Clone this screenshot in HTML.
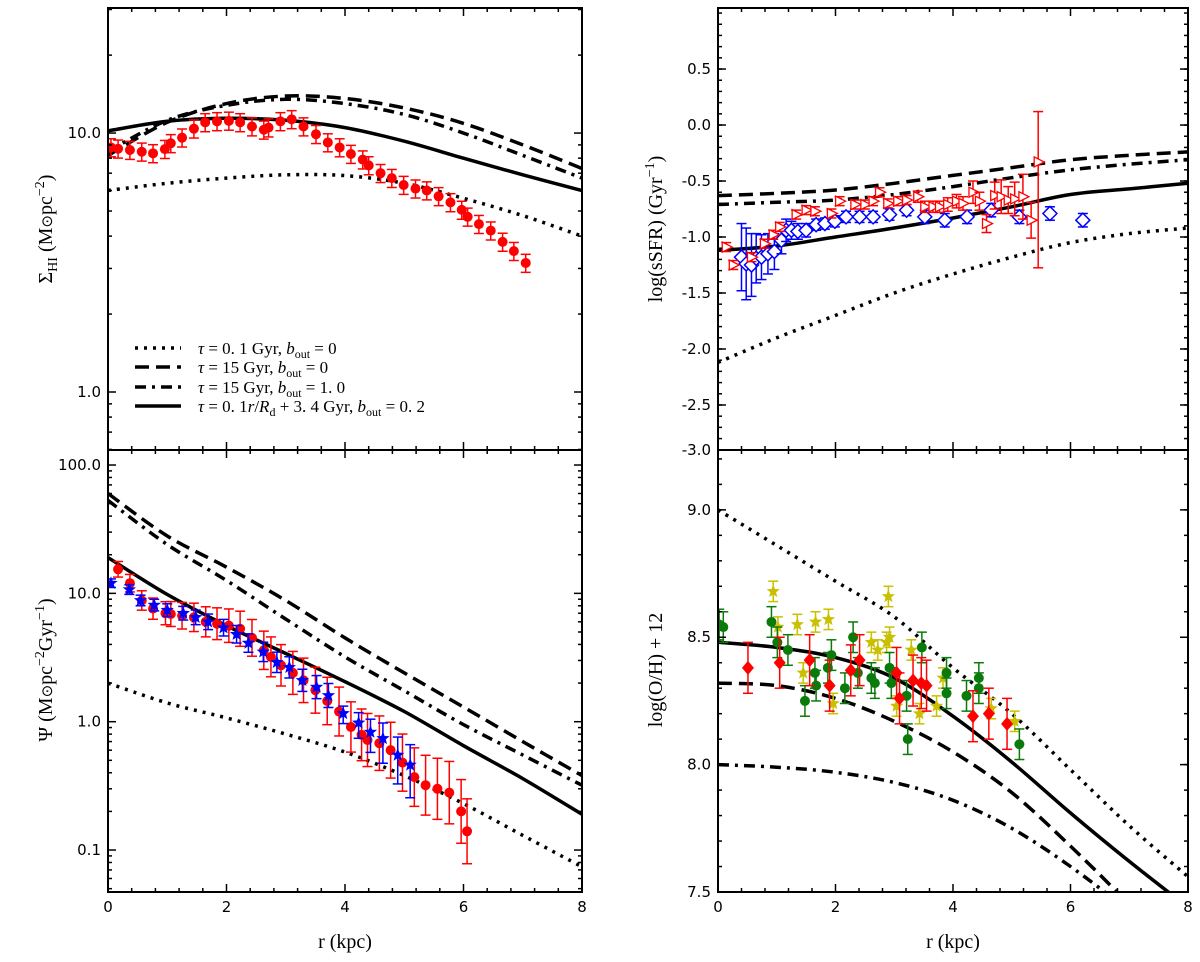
<!DOCTYPE html>
<html><head><meta charset="utf-8"><style>
html,body{margin:0;padding:0;background:#fff;}
svg{display:block;}
.tl{font-family:"DejaVu Sans","Liberation Sans",sans-serif;font-size:15px;fill:#000;}
.al{font-family:"Liberation Serif","DejaVu Serif",serif;font-size:20px;fill:#000;}
.lg{font-family:"Liberation Serif","DejaVu Serif",serif;font-size:17px;fill:#000;}
</style></head><body>
<svg id="fig" width="1200" height="962" viewBox="0 0 1200 962" xmlns="http://www.w3.org/2000/svg">
<text class="al" x="345" y="948" text-anchor="middle">r (kpc)</text>
<text class="al" x="953" y="948" text-anchor="middle">r (kpc)</text>
<text class="al" transform="translate(52,229) rotate(-90)" text-anchor="middle">Σ<tspan font-size="14" dy="5">HI</tspan><tspan dy="-5"> (M</tspan><tspan font-family="DejaVu Sans" font-size="15">⊙</tspan>pc<tspan font-size="14" dy="-8">−2</tspan><tspan dy="8">)</tspan></text>
<text class="al" transform="translate(52,670) rotate(-90)" text-anchor="middle">Ψ (M<tspan font-family="DejaVu Sans" font-size="15">⊙</tspan>pc<tspan font-size="14" dy="-8">−2</tspan><tspan dy="8">Gyr</tspan><tspan font-size="14" dy="-8">−1</tspan><tspan dy="8">)</tspan></text>
<text class="al" transform="translate(662,229) rotate(-90)" text-anchor="middle">log(sSFR) (Gyr<tspan font-size="14" dy="-8">−1</tspan><tspan dy="8">)</tspan></text>
<text class="al" transform="translate(662,670) rotate(-90)" text-anchor="middle">log(O/H) + 12</text>
</svg>
<script>
// ---------- data ----------
const R = [0,1,2,3,4,5,6,7,8];
// panel A: Sigma_HI
const hiSolid = [10.2,11.1,11.4,11.2,10.5,9.3,8.0,6.9,6.0];
const hiDashed = [8.2,11.0,13.0,13.9,13.6,12.5,10.9,9.0,7.3];
const hiDashDot = [8.5,11.2,12.8,13.5,13.0,11.8,10.0,8.2,6.7];
const hiDotted = [6.0,6.4,6.7,6.9,6.85,6.4,5.6,4.8,4.0];
const hiObsR = [0.05,0.17,0.37,0.57,0.76,0.96,1.06,1.25,1.45,1.64,1.84,2.04,2.23,2.43,2.63,2.71,2.91,3.1,3.3,3.51,3.71,3.91,4.1,4.3,4.4,4.6,4.79,4.99,5.19,5.38,5.58,5.78,5.97,6.07,6.26,6.46,6.66,6.85,7.05];
const hiObsV = [8.8,8.7,8.6,8.47,8.35,8.67,9.13,9.6,10.4,11.0,11.1,11.15,11.0,10.6,10.3,10.5,11.1,11.3,10.6,9.9,9.2,8.8,8.3,7.9,7.5,7.0,6.7,6.3,6.1,6.0,5.7,5.4,5.05,4.75,4.45,4.2,3.8,3.5,3.15];
// panel B: Psi
const psiSolid = [19,9.8,5.6,3.4,2.05,1.2,0.65,0.36,0.19];
const psiDashed = [60,28,16,8.8,4.5,2.4,1.3,0.7,0.38];
const psiDashDot = [53,24,12.6,6.3,3.2,1.74,0.95,0.55,0.32];
const psiDotted = [2.0,1.4,1.07,0.8,0.58,0.38,0.23,0.13,0.074];
const psiRedR = [0.17,0.37,0.57,0.76,0.97,1.06,1.25,1.45,1.65,1.84,2.04,2.23,2.43,2.63,2.75,2.92,3.12,3.3,3.5,3.7,3.9,4.1,4.28,4.38,4.58,4.77,4.97,5.17,5.36,5.56,5.76,5.96,6.06];
const psiRedV = [15.4,12,8.8,7.6,7.0,6.9,6.7,6.5,6.0,5.8,5.6,5.3,4.5,3.6,3.2,2.75,2.4,2.1,1.76,1.45,1.2,0.91,0.79,0.72,0.68,0.6,0.48,0.37,0.32,0.30,0.28,0.2,0.14];
const psiBlueR = [0.05,0.36,0.55,0.78,1.0,1.27,1.48,1.69,1.95,2.17,2.37,2.62,2.85,3.06,3.28,3.52,3.72,3.97,4.23,4.43,4.64,4.89,5.1];
const psiBlueV = [12,10.7,8.8,8.1,7.4,7.0,6.5,6.0,5.4,4.8,4.1,3.5,2.9,2.65,2.1,1.86,1.6,1.16,0.98,0.83,0.74,0.55,0.46];
// panel C: log sSFR
const ssSolid = [-1.12,-1.08,-1.0,-0.92,-0.83,-0.73,-0.62,-0.57,-0.52];
const ssDashed = [-0.63,-0.61,-0.58,-0.52,-0.45,-0.38,-0.31,-0.27,-0.24];
const ssDashDot = [-0.71,-0.69,-0.67,-0.62,-0.55,-0.47,-0.40,-0.35,-0.31];
const ssDotted = [-2.12,-1.9,-1.70,-1.5,-1.33,-1.18,-1.05,-0.97,-0.92];
const ssRedR = [0.14,0.26,0.57,0.79,0.94,1.05,1.33,1.5,1.65,1.93,2.07,2.33,2.5,2.64,2.75,2.89,3.06,3.21,3.4,3.52,3.66,3.77,3.91,4.06,4.17,4.34,4.45,4.57,4.71,4.82,4.94,5.05,5.19,5.33,5.45];
const ssRedV = [-1.09,-1.25,-1.18,-1.06,-0.98,-0.91,-0.80,-0.76,-0.77,-0.79,-0.68,-0.71,-0.71,-0.68,-0.60,-0.70,-0.68,-0.67,-0.64,-0.73,-0.73,-0.73,-0.71,-0.68,-0.70,-0.60,-0.68,-0.88,-0.63,-0.64,-0.67,-0.66,-0.64,-0.85,-0.33];
const ssRedErr = [0.04,0.04,0.04,0.04,0.04,0.04,0.04,0.04,0.04,0.04,0.04,0.04,0.04,0.04,0.04,0.04,0.04,0.04,0.05,0.05,0.05,0.05,0.06,0.06,0.06,0.1,0.08,0.08,0.12,0.15,0.12,0.15,0.2,0.16,0.45];
const ssBlueR = [0.4,0.48,0.57,0.65,0.74,0.85,0.96,1.08,1.16,1.25,1.36,1.5,1.67,1.82,1.99,2.18,2.41,2.64,2.92,3.21,3.52,3.86,4.24,4.65,5.13,5.65,6.21];
const ssBlueV = [-1.18,-1.24,-1.25,-1.19,-1.18,-1.15,-1.13,-1.03,-0.94,-0.94,-0.95,-0.94,-0.89,-0.88,-0.86,-0.82,-0.82,-0.82,-0.80,-0.76,-0.82,-0.85,-0.82,-0.76,-0.82,-0.79,-0.85];
const ssBlueErr = [0.3,0.32,0.28,0.22,0.2,0.18,0.16,0.12,0.1,0.08,0.07,0.06,0.05,0.05,0.05,0.05,0.05,0.05,0.05,0.05,0.06,0.06,0.06,0.06,0.06,0.06,0.06];
// panel D: log(O/H)+12
const ohSolid = [8.48,8.46,8.42,8.34,8.19,8.01,7.81,7.62,7.44];
const ohDashed = [8.32,8.31,8.26,8.17,8.05,7.89,7.68,7.45,7.2];
const ohDashDot = [8.0,7.99,7.97,7.93,7.86,7.75,7.6,7.42,7.2];
const ohDotted = [9.0,8.86,8.72,8.58,8.38,8.2,7.98,7.76,7.56];
const ohRedR = [0.51,1.05,1.56,1.9,2.26,2.41,3.04,3.09,3.32,3.46,3.55,4.34,4.61,4.92];
const ohRedV = [8.38,8.40,8.41,8.31,8.37,8.41,8.36,8.26,8.33,8.32,8.31,8.19,8.2,8.16];
const ohGreenR = [0.02,0.09,0.91,1.01,1.19,1.48,1.65,1.67,1.87,1.93,2.16,2.3,2.38,2.61,2.67,2.92,2.95,3.21,3.23,3.47,3.89,3.89,4.23,4.44,4.44,5.13];
const ohGreenV = [8.55,8.54,8.56,8.48,8.45,8.25,8.36,8.31,8.38,8.43,8.3,8.5,8.36,8.34,8.32,8.38,8.32,8.27,8.1,8.46,8.36,8.28,8.27,8.34,8.3,8.08];
const ohYellowR = [0.94,1.02,1.35,1.45,1.66,1.88,1.96,2.61,2.72,2.87,2.9,2.92,3.04,3.29,3.43,3.72,3.83,4.65,5.05];
const ohYellowV = [8.68,8.54,8.55,8.36,8.56,8.57,8.24,8.48,8.45,8.48,8.66,8.5,8.23,8.45,8.2,8.23,8.34,8.22,8.17];
// tick labels
const xTickVals = [0,2,4,6,8];
const hiTickVals = [1,10];
const hiTickLabels = ["1.0","10.0"];
const psiTickVals = [0.1,1,10,100];
const psiTickLabels = ["0.1","1.0","10.0","100.0"];
const ssTickVals = [0.5,0.0,-0.5,-1.0,-1.5,-2.0,-2.5];
const ssTickLabels = ["0.5","0.0","-0.5","-1.0","-1.5","-2.0","-2.5"];
const ohTickVals = [7.5,8.0,8.5,9.0];
const ohTickLabels = ["7.5","8.0","8.5","9.0"];

// ---------- drawing ----------
const NS = "http://www.w3.org/2000/svg";
const svg = document.getElementById("fig");
function mk(tag, attrs, parent){
  const e = document.createElementNS(NS, tag);
  for (const k in attrs) e.setAttribute(k, attrs[k]);
  (parent||svg).appendChild(e);
  return e;
}
function panel(cfg){
  const g = mk("g", {});
  
  
  const clipId = cfg.name + "-clip";
  const defs = mk("defs", {}, g);
  const cp = mk("clipPath", {id: clipId}, defs);
  mk("rect", {x: cfg.x0, y: cfg.y0, width: cfg.x1 - cfg.x0, height: cfg.y1 - cfg.y0}, cp);
  const sx = v => cfg.x0 + (v - 0) / 8 * (cfg.x1 - cfg.x0);
  const tf = v => cfg.log ? Math.log10(v) : v;
  const lo = tf(cfg.ymin), hi = tf(cfg.ymax);
  const sy = v => cfg.y1 - (tf(v) - lo) / (hi - lo) * (cfg.y1 - cfg.y0);
  return {g, sx, sy, clipId, cfg};
}
function smoothPath(pts){
  let d = "M" + pts[0][0].toFixed(1) + "," + pts[0][1].toFixed(1);
  for (let i = 0; i < pts.length - 1; i++){
    const p0 = pts[Math.max(0, i-1)], p1 = pts[i], p2 = pts[i+1], p3 = pts[Math.min(pts.length-1, i+2)];
    const c1 = [p1[0] + (p2[0]-p0[0])/6, p1[1] + (p2[1]-p0[1])/6];
    const c2 = [p2[0] - (p3[0]-p1[0])/6, p2[1] - (p3[1]-p1[1])/6];
    d += " C" + c1.map(v=>v.toFixed(1)).join(",") + " " + c2.map(v=>v.toFixed(1)).join(",") + " " + p2[0].toFixed(1) + "," + p2[1].toFixed(1);
  }
  return d;
}
const DASH = {solid: "", dashed: "14,7", dashdot: "11,6,3,6", dotted: "3,6"};
function curve(P, vals, style, name){
  const pts = R.map((r, i) => [P.sx(r), P.sy(vals[i])]);
  const p = mk("path", {d: smoothPath(pts), fill: "none", stroke: "#000", "stroke-width": 3.5, "stroke-dasharray": DASH[style], "clip-path": "url(#" + P.clipId + ")"}, P.g);
  
  
}
function marker(P, shape, x, y, color, parent){
  let e;
  if (shape === "circle") e = mk("circle", {cx: x, cy: y, r: 5, fill: color}, parent);
  else if (shape === "diamond") e = mk("polygon", {points: `${x},${y-7} ${x+7},${y} ${x},${y+7} ${x-7},${y}`, fill: "#fff", stroke: color, "stroke-width": 1.5}, parent);
  else if (shape === "filldiamond") e = mk("polygon", {points: `${x},${y-7} ${x+6},${y} ${x},${y+7} ${x-6},${y}`, fill: color}, parent);
  else if (shape === "tri") e = mk("polygon", {points: `${x+6},${y} ${x-4},${y-5} ${x-4},${y+5}`, fill: "#fff", stroke: color, "stroke-width": 1.3}, parent);
  else if (shape === "star") {
    let pts = [];
    for (let k = 0; k < 10; k++){ const a = -Math.PI/2 + k*Math.PI/5; const rr = k%2 ? 3 : 7; pts.push((x+rr*Math.cos(a)).toFixed(1)+","+(y+rr*Math.sin(a)).toFixed(1)); }
    e = mk("polygon", {points: pts.join(" "), fill: color}, parent);
  }
  return e;
}
function series(P, rs, vs, errLo, errHi, shape, color, name){
  const g = mk("g", {"clip-path": "url(#" + P.clipId + ")"}, P.g);
  
  
  rs.forEach((r, i) => {
    const x = P.sx(r), y = P.sy(vs[i]);
    const yl = P.sy(errLo(vs[i], i)), yh = P.sy(errHi(vs[i], i));
    mk("line", {x1: x, x2: x, y1: yl, y2: yh, stroke: color, "stroke-width": 1.5}, g);
    mk("line", {x1: x-5, x2: x+5, y1: yl, y2: yl, stroke: color, "stroke-width": 1.5}, g);
    mk("line", {x1: x-5, x2: x+5, y1: yh, y2: yh, stroke: color, "stroke-width": 1.5}, g);
    const m = marker(P, shape, x, y, color, g);
    
    
  });
}
function axes(P, yMajor, yLabels, yMinor, showX){
  const c = P.cfg, g = P.g;
  const fr = mk("rect", {x: c.x0, y: c.y0, width: c.x1-c.x0, height: c.y1-c.y0, fill: "none", stroke: "#000", "stroke-width": 2}, g);
  
  
  for (let k = 0; k <= 20; k++){
    const v = k*0.4, x = P.sx(v), major = (k % 5 === 0), L = major ? 8 : 4;
    mk("line", {x1: x, x2: x, y1: c.y1, y2: c.y1-L, stroke: "#000", "stroke-width": 1.5}, g);
    mk("line", {x1: x, x2: x, y1: c.y0, y2: c.y0+L, stroke: "#000", "stroke-width": 1.5}, g);
  }
  if (showX){
    xTickVals.forEach(v => {
      const t = mk("text", {class: "tl", x: P.sx(v), y: c.y1 + 20, "text-anchor": "middle"}, g);
      t.textContent = String(v);
      
      
    });
  }
  yMinor.forEach(v => {
    const y = P.sy(v);
    if (y < c.y0 - 0.5 || y > c.y1 + 0.5) return;
    mk("line", {x1: c.x0, x2: c.x0+4, y1: y, y2: y, stroke: "#000", "stroke-width": 1.5}, g);
    mk("line", {x1: c.x1, x2: c.x1-4, y1: y, y2: y, stroke: "#000", "stroke-width": 1.5}, g);
  });
  yMajor.forEach((v, i) => {
    const y = P.sy(v);
    mk("line", {x1: c.x0, x2: c.x0+8, y1: y, y2: y, stroke: "#000", "stroke-width": 1.5}, g);
    mk("line", {x1: c.x1, x2: c.x1-8, y1: y, y2: y, stroke: "#000", "stroke-width": 1.5}, g);
    const t = mk("text", {class: "tl", x: c.x0 - 7, y: y + 5, "text-anchor": "end"}, g);
    t.textContent = yLabels[i];
    
    
  });
}
function logMinor(a, b){ const out = []; for (let e = a; e <= b; e++) for (let m = 2; m <= 9; m++) out.push(m * Math.pow(10, e)); return out; }
function linMinor(a, b){ const out = []; for (let v = a; v <= b + 1e-9; v += 0.1) out.push(Math.round(v*10)/10); return out; }

// Panel A
const A = panel({name: "panel-hi", x0: 108, x1: 582, y0: 8, y1: 450, log: true, ymin: Math.pow(10, -0.224), ymax: Math.pow(10, 1.483)});
curve(A, hiDotted, "dotted", "hi-curve-dotted");
curve(A, hiDashed, "dashed", "hi-curve-dashed");
curve(A, hiDashDot, "dashdot", "hi-curve-dashdot");
curve(A, hiSolid, "solid", "hi-curve-solid");
series(A, hiObsR, hiObsV, v => v*0.92, v => v*1.08, "circle", "#f00", "hi-observed");
axes(A, hiTickVals, hiTickLabels, logMinor(-1, 1), false);
const legStyles = ["dotted","dashed","dashdot","solid"];
const legY = [348, 367, 387, 406];
const legG = mk("g", {});


const legTexts = [
  '<tspan font-style="italic">τ</tspan> = 0. 1 Gyr, <tspan font-style="italic">b</tspan><tspan font-size="12" dy="4">out</tspan><tspan dy="-4"> = 0</tspan>',
  '<tspan font-style="italic">τ</tspan> = 15 Gyr, <tspan font-style="italic">b</tspan><tspan font-size="12" dy="4">out</tspan><tspan dy="-4"> = 0</tspan>',
  '<tspan font-style="italic">τ</tspan> = 15 Gyr, <tspan font-style="italic">b</tspan><tspan font-size="12" dy="4">out</tspan><tspan dy="-4"> = 1. 0</tspan>',
  '<tspan font-style="italic">τ</tspan> = 0. 1<tspan font-style="italic">r</tspan>/<tspan font-style="italic">R</tspan><tspan font-size="12" dy="4">d</tspan><tspan dy="-4"> + 3. 4 Gyr, </tspan><tspan font-style="italic">b</tspan><tspan font-size="12" dy="4">out</tspan><tspan dy="-4"> = 0. 2</tspan>'
];
legStyles.forEach((s, i) => {
  const l = mk("line", {x1: 135, x2: 181, y1: legY[i], y2: legY[i], stroke: "#000", "stroke-width": 3.5, "stroke-dasharray": DASH[s]}, legG);
  
  
  const t = mk("text", {class: "lg", x: 198, y: legY[i] + 6}, legG);
  t.innerHTML = legTexts[i];
  
  
});

// Panel B
const B = panel({name: "panel-psi", x0: 108, x1: 582, y0: 450, y1: 892, log: true, ymin: Math.pow(10, -1.327), ymax: Math.pow(10, 2.117)});
curve(B, psiDotted, "dotted", "psi-curve-dotted");
curve(B, psiDashed, "dashed", "psi-curve-dashed");
curve(B, psiDashDot, "dashdot", "psi-curve-dashdot");
curve(B, psiSolid, "solid", "psi-curve-solid");
series(B, psiRedR, psiRedV, (v,i) => v / (1.15 + 0.02*i), (v,i) => v * (1.15 + 0.02*i), "circle", "#f00", "psi-observed-red");
series(B, psiBlueR, psiBlueV, (v,i) => v / (1.08 + (i > 16 ? 0.12*(i-16) : 0.01*i)), (v,i) => v * (1.08 + (i > 16 ? 0.06*(i-16) : 0.01*i)), "star", "#00f", "psi-observed-blue");
axes(B, psiTickVals, psiTickLabels, logMinor(-2, 2), true);

// Panel C
const C = panel({name: "panel-ssfr", x0: 718, x1: 1188, y0: 8, y1: 450, log: false, ymin: -2.902, ymax: 1.045});
curve(C, ssDotted, "dotted", "ssfr-curve-dotted");
curve(C, ssDashed, "dashed", "ssfr-curve-dashed");
curve(C, ssDashDot, "dashdot", "ssfr-curve-dashdot");
curve(C, ssSolid, "solid", "ssfr-curve-solid");
series(C, ssBlueR, ssBlueV, (v,i) => v - ssBlueErr[i], (v,i) => v + ssBlueErr[i], "diamond", "#00f", "ssfr-observed-blue");
series(C, ssRedR, ssRedV, (v,i) => v - ssRedErr[i] * (i === ssRedR.length-1 ? 2.1 : 1), (v,i) => v + ssRedErr[i], "tri", "#f00", "ssfr-observed-red");
axes(C, ssTickVals, ssTickLabels, linMinor(-2.9, 1.0), false);
const lastLbl = mk("text", {class: "tl", x: 711, y: 455, "text-anchor": "end"});
lastLbl.textContent = "-3.0";



// Panel D
const D = panel({name: "panel-oh", x0: 718, x1: 1188, y0: 450, y1: 892, log: false, ymin: 7.5, ymax: 9.235});
curve(D, ohDotted, "dotted", "oh-curve-dotted");
curve(D, ohDashed, "dashed", "oh-curve-dashed");
curve(D, ohDashDot, "dashdot", "oh-curve-dashdot");
curve(D, ohSolid, "solid", "oh-curve-solid");
series(D, ohYellowR, ohYellowV, v => v - 0.04, v => v + 0.04, "star", "#c8c000", "oh-observed-yellow");
series(D, ohGreenR, ohGreenV, v => v - 0.06, v => v + 0.06, "circle", "#0a7a0a", "oh-observed-green");
series(D, ohRedR, ohRedV, v => v - 0.1, v => v + 0.1, "filldiamond", "#f00", "oh-observed-red");
axes(D, ohTickVals, ohTickLabels, linMinor(7.5, 9.2), true);
</script>
</body></html>
